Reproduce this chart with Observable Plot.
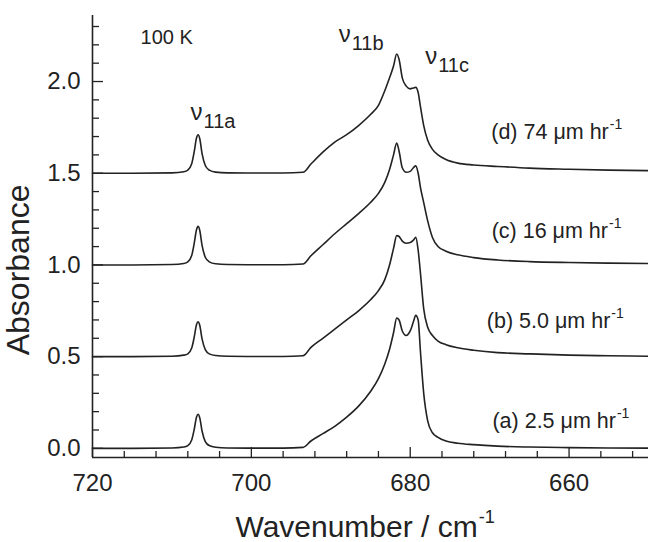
<!DOCTYPE html>
<html><head><meta charset="utf-8">
<script src="https://cdn.jsdelivr.net/npm/d3@7"></script>
<script src="https://cdn.jsdelivr.net/npm/@observablehq/plot@0.6"></script>
<style>body{margin:0;background:#fff;}</style>
</head><body><div id="chart"></div>
<script>
// Shared wavenumber grid (cm^-1)
const wavenumbers = [720, 715, 710, 708.5, 708, 707.5, 707.2, 706.9, 706.7, 706.5, 706.2, 705.8, 705.3, 704.5, 703, 700, 696,
  693.5, 692.5, 691, 689.5, 688, 686.5, 685, 684, 683.2, 682.6, 682.1, 681.7, 681.4, 681.0, 680.5, 680.0, 679.6, 679.3,
  679.0, 678.7, 678.3, 677.8, 677.2, 676.5, 675.5, 674, 672, 669, 665, 660, 655, 650];

// Absorbance (offset traces as plotted)
const specA = [0.0, 0.0, 0.002, 0.007, 0.015, 0.047, 0.102, 0.171, 0.186, 0.167, 0.093, 0.037, 0.015, 0.006, 0.002, 0.001, 0.001,
  0.005, 0.04, 0.08, 0.12, 0.17, 0.23, 0.31, 0.38, 0.46, 0.54, 0.63, 0.71, 0.70, 0.64, 0.615, 0.64, 0.69, 0.725,
  0.70, 0.52, 0.30, 0.15, 0.085, 0.06, 0.04, 0.028, 0.02, 0.012, 0.007, 0.004, 0.002, 0.001];
const specB = [0.5, 0.5, 0.502, 0.508, 0.515, 0.548, 0.605, 0.675, 0.69, 0.671, 0.595, 0.538, 0.515, 0.506, 0.502, 0.501, 0.501,
  0.505, 0.55, 0.60, 0.65, 0.70, 0.75, 0.81, 0.86, 0.92, 1.0, 1.09, 1.16, 1.155, 1.13, 1.118, 1.122, 1.135, 1.15,
  1.08, 0.95, 0.76, 0.66, 0.615, 0.585, 0.565, 0.548, 0.535, 0.522, 0.515, 0.508, 0.505, 0.502];
const specC = [1.0, 1.0, 1.002, 1.008, 1.017, 1.053, 1.116, 1.193, 1.21, 1.189, 1.105, 1.042, 1.017, 1.006, 1.002, 1.001, 1.001,
  1.005, 1.05, 1.11, 1.17, 1.225, 1.28, 1.34, 1.39, 1.45, 1.52, 1.60, 1.665, 1.62, 1.53, 1.505, 1.51, 1.53, 1.54,
  1.50, 1.42, 1.34, 1.24, 1.15, 1.10, 1.075, 1.055, 1.04, 1.027, 1.018, 1.013, 1.01, 1.008];
const specD = [1.5, 1.5, 1.502, 1.508, 1.517, 1.553, 1.616, 1.693, 1.71, 1.689, 1.605, 1.542, 1.517, 1.506, 1.502, 1.501, 1.501,
  1.505, 1.55, 1.615, 1.67, 1.71, 1.76, 1.82, 1.87, 1.95, 2.02, 2.085, 2.15, 2.12, 2.02, 1.975, 1.96, 1.965, 1.968,
  1.94, 1.86, 1.76, 1.68, 1.63, 1.60, 1.575, 1.555, 1.545, 1.537, 1.528, 1.522, 1.517, 1.514];

const seriesNames = ["(a) 2.5 μm hr", "(b) 5.0 μm hr", "(c) 16 μm hr", "(d) 74 μm hr"];
const bandNames = ["11a", "11b", "11c"];
const xTicksMajor = [720, 700, 680, 660];
const xTicksMinor = [716, 712, 708, 704, 696, 692, 688, 684, 676, 672, 668, 664, 656, 652];
const yTicksMajor = [0, 0.5, 1.0, 1.5, 2.0];
const yTicksMinor = [0.1, 0.2, 0.3, 0.4, 0.6, 0.7, 0.8, 0.9, 1.1, 1.2, 1.3, 1.4, 1.6, 1.7, 1.8, 1.9, 2.1, 2.2, 2.3];

// layout (data-unit anchors for annotations)
const xDomain = [720, 650];
const yDomain = [-0.05, 2.36];
const seriesLabelAt = [[654.1, 0.109], [654.8, 0.656], [655.1, 1.148], [655.0, 1.689]];
const bandLabelAt = [[706.15, 1.79], [687.5, 2.213], [676.6, 2.093]];

const spectra = [specA, specB, specC, specD];
const rows = [];
spectra.forEach((s, k) => wavenumbers.forEach((w, i) => rows.push({w, a: s[i], series: seriesNames[k]})));
const seriesLabels = seriesNames.map((t, k) => ({t, x: seriesLabelAt[k][0], y: seriesLabelAt[k][1]}));
const bandLabels = bandNames.map((t, k) => ({t, x: bandLabelAt[k][0], y: bandLabelAt[k][1]}));

const ink = "#222";
const chart = Plot.plot({
  width: 648, height: 542,
  marginLeft: 92, marginRight: 0, marginTop: 15, marginBottom: 85,
  style: {fontFamily: "'Liberation Sans', Arial, sans-serif", background: "#fff", color: ink, overflow: "visible"},
  x: {domain: xDomain},
  y: {domain: yDomain},
  marks: [
    Plot.axisX(xTicksMinor, {tickSize: -6, tickFormat: () => "", stroke: ink, strokeWidth: 1.3, label: null}),
    Plot.axisX(xTicksMajor, {tickSize: -10, tickFormat: () => "", stroke: ink, strokeWidth: 1.3, label: null}),
    Plot.axisX(xTicksMajor, {tickSize: 0, tickPadding: 16, fontSize: 24, fill: ink, label: null}),
    Plot.axisY(yTicksMinor, {tickSize: -7, tickFormat: () => "", stroke: ink, strokeWidth: 1.3, label: null}),
    Plot.axisY(yTicksMajor, {tickSize: -11, tickFormat: () => "", stroke: ink, strokeWidth: 1.3, label: null}),
    Plot.axisY(yTicksMajor, {tickSize: 0, tickPadding: 12, fontSize: 24, fill: ink, tickFormat: d3.format(".1f"), label: null}),
    Plot.ruleX([xDomain[0]], {stroke: ink, strokeWidth: 1.6}),
    Plot.ruleY([yDomain[0]], {stroke: ink, strokeWidth: 1.6}),
    Plot.line(rows, {x: "w", y: "a", z: "series", stroke: ink, strokeWidth: 1.6, curve: "monotone-x"}),
    // series labels with superscript -1
    Plot.text(seriesLabels, {x: "x", y: "y", text: "t", textAnchor: "end", lineAnchor: "bottom", fontSize: 21.5, fill: ink}),
    Plot.text(seriesLabels, {x: "x", y: "y", text: () => "-1", textAnchor: "start", lineAnchor: "bottom", fontSize: 14, dx: 1, dy: -10, fill: ink}),
    // band labels nu with subscript
    Plot.text(bandLabels, {x: "x", y: "y", text: () => "ν", textAnchor: "end", lineAnchor: "bottom", fontSize: 24, fill: ink}),
    Plot.text(bandLabels, {x: "x", y: "y", text: "t", textAnchor: "start", lineAnchor: "bottom", fontSize: 20, dx: 1, dy: 8, fill: ink}),
    Plot.text(["100 K"], {x: 713.95, y: 2.202, text: d => d, textAnchor: "start", lineAnchor: "bottom", fontSize: 20, fill: ink}),
    // axis titles
    Plot.text(["Wavenumber / cm"], {x: 671.5, y: -0.486, text: d => d, textAnchor: "end", lineAnchor: "bottom", fontSize: 30, fill: ink}),
    Plot.text(["-1"], {x: 671.5, y: -0.486, text: d => d, textAnchor: "start", lineAnchor: "bottom", fontSize: 18, dx: 1, dy: -14, fill: ink}),
    Plot.text(["Absorbance"], {x: 729.3, y: 0.973, text: d => d, rotate: -90, textAnchor: "middle", lineAnchor: "middle", fontSize: 32, fill: ink})
  ]
});
document.getElementById("chart").append(chart);
</script>
</body></html>
